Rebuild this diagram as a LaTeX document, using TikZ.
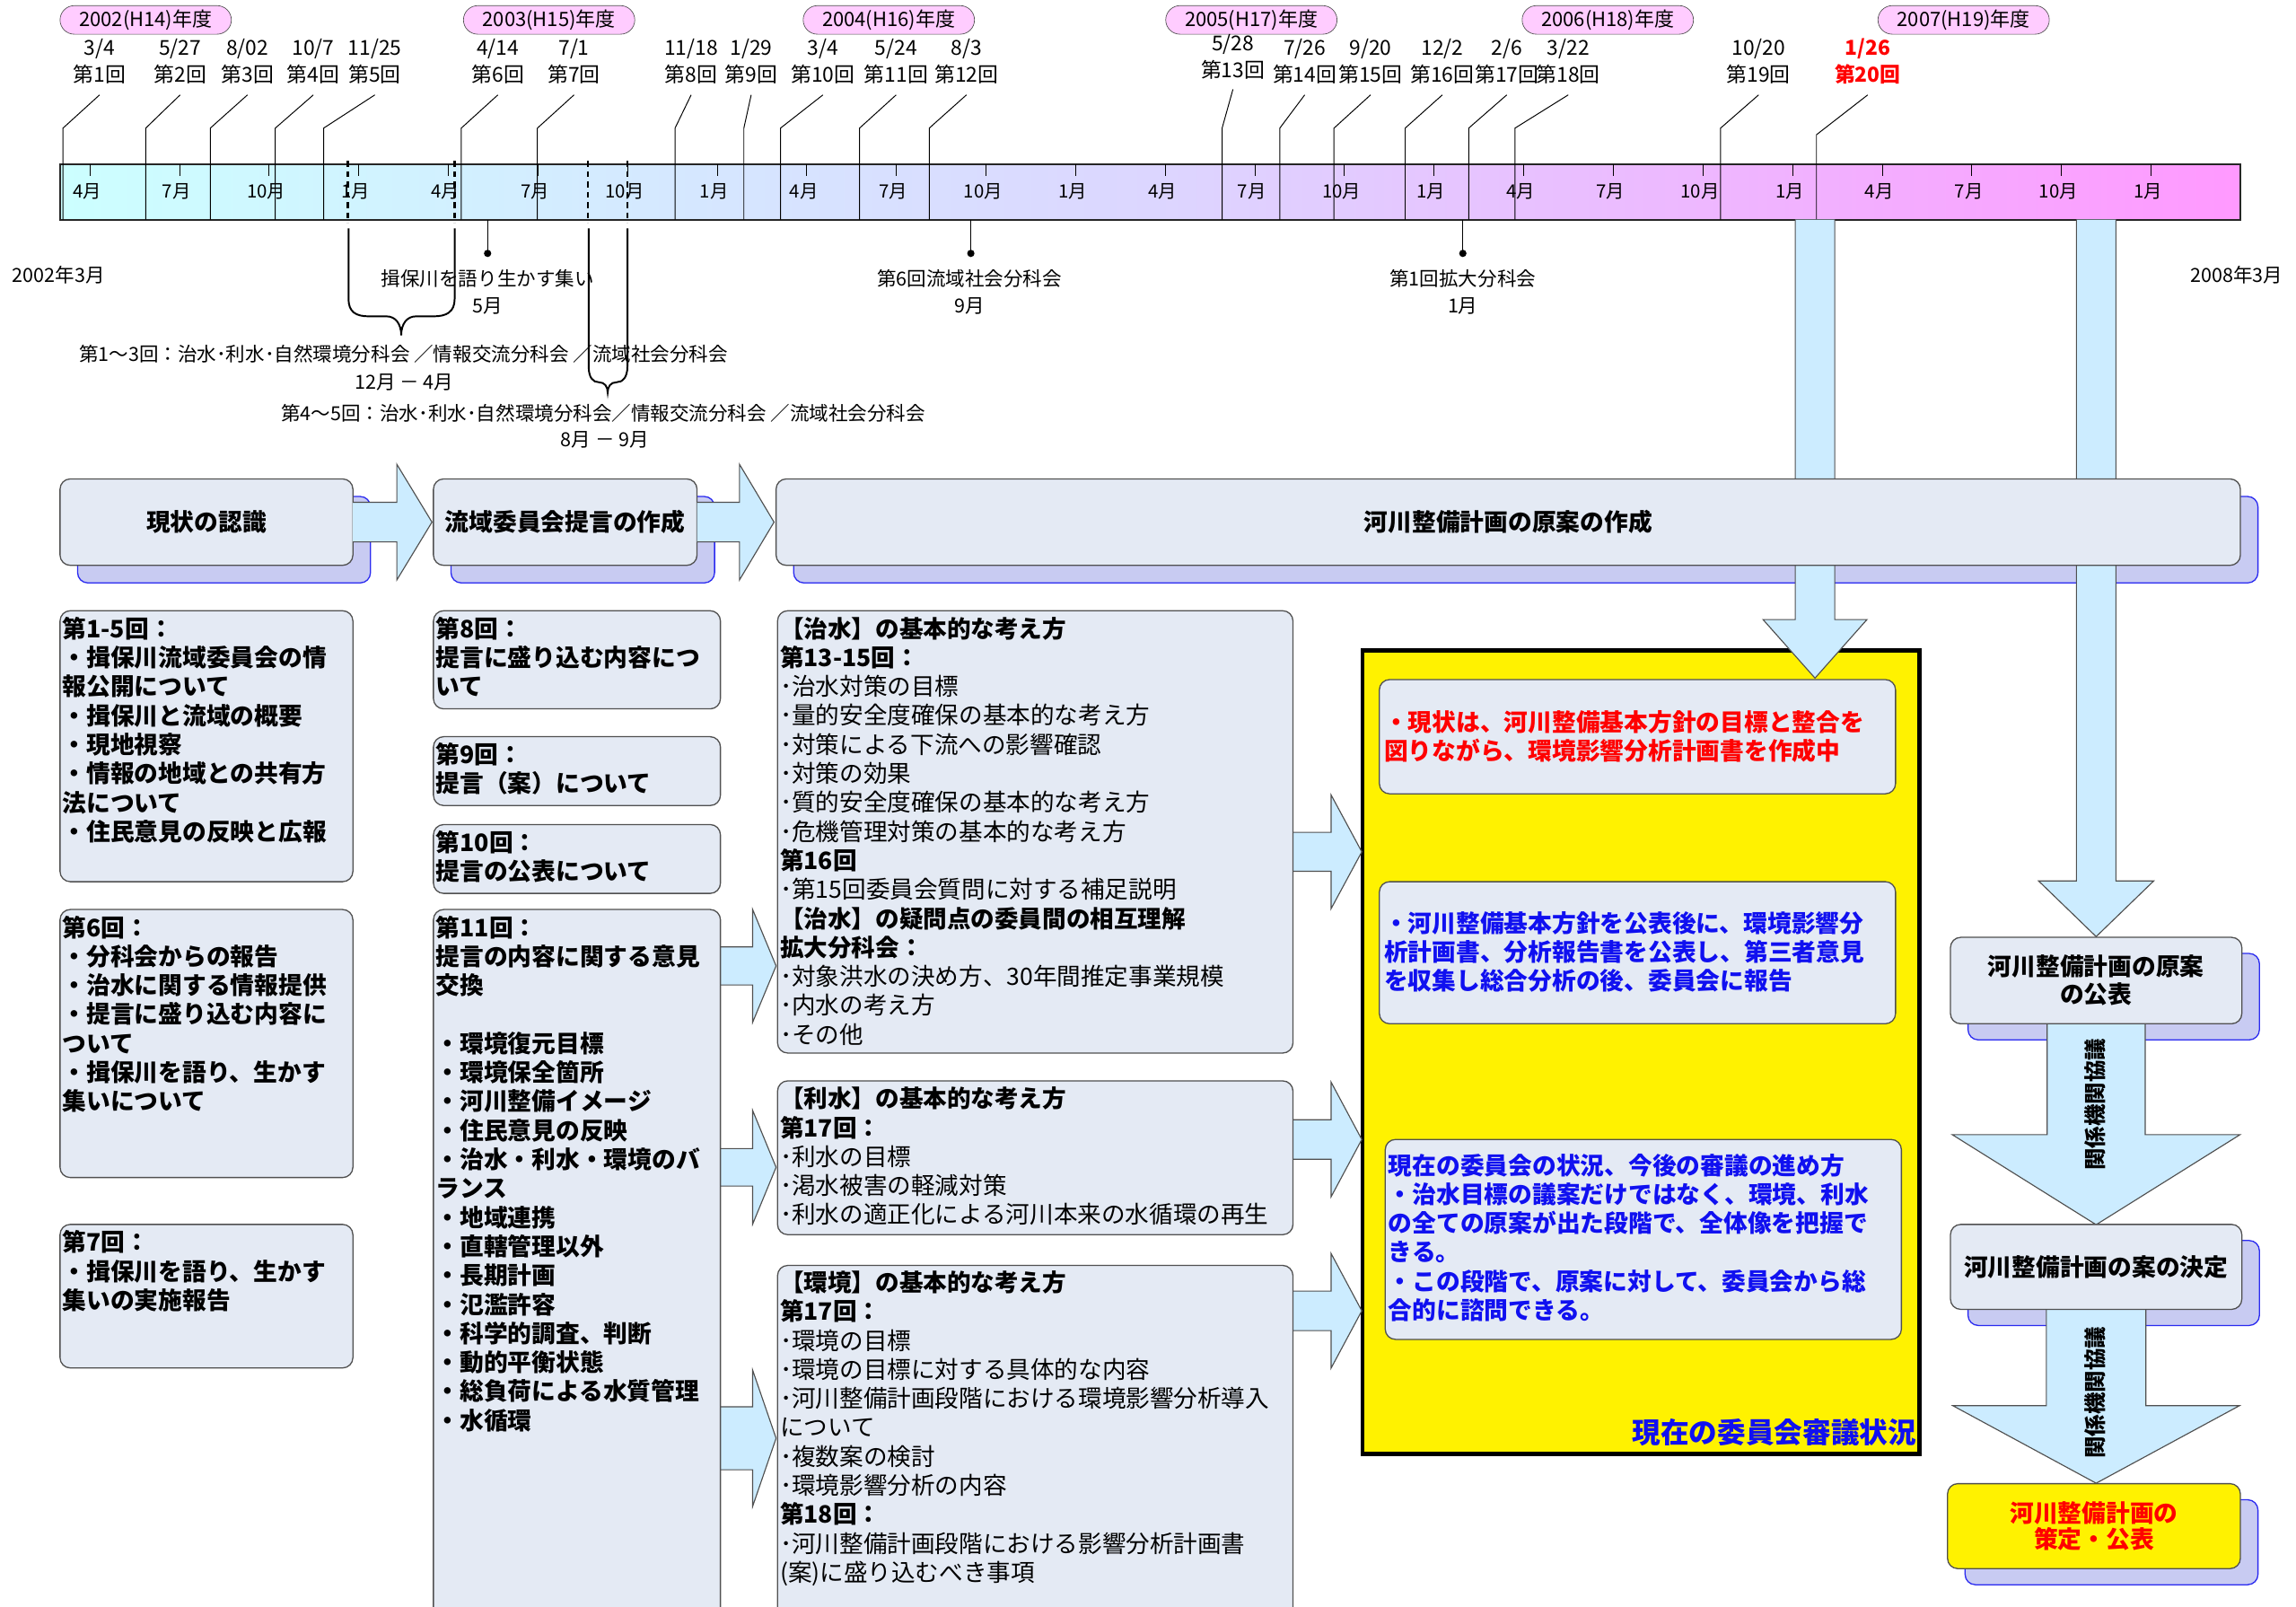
\documentclass[tikz,border=0pt]{standalone}
\usepackage{fontspec}
\setmainfont{Noto Sans CJK JP}
\usetikzlibrary{shapes.misc}
\definecolor{boxfill}{HTML}{E4EAF4}
\definecolor{boxdraw}{HTML}{505050}
\definecolor{shfill}{HTML}{C8CBF2}
\definecolor{shdraw}{HTML}{2A2AF0}
\definecolor{arrfill}{HTML}{CCECFF}
\definecolor{arrdraw}{HTML}{505050}
\definecolor{pillfill}{HTML}{FFCCFF}
\definecolor{tcyan}{HTML}{CCFFFF}
\definecolor{tmid}{HTML}{DCD6FF}
\definecolor{tpink}{HTML}{FF99FF}
\definecolor{tblue}{HTML}{1010F0}
\definecolor{tred}{HTML}{FF0000}
\newcommand\myB{\fontsize{16.4pt}{19.8pt}\selectfont\bfseries}
\newcommand\myR{\fontsize{16.3pt}{19.8pt}\selectfont}
\newcommand\mytl{\fontsize{14pt}{16pt}\selectfont}
\newcommand\mymf{\fontsize{12.5pt}{14pt}\selectfont}
\newcommand\mysm{\fontsize{13.2pt}{15pt}\selectfont}
\newcommand\mkbox[6]{\node[#1,anchor=north west,inner sep=0pt,outer sep=0pt,minimum width={(#5)-(#3)},minimum height={(#6)-(#4)}] (#2) at (#3,#4) {};}
\newcommand\harrow[6]{\draw[barr] (#1,#4-#5) -- (#2,#4-#5) -- (#2,#4-#6) -- (#3,#4) -- (#2,#4+#6) -- (#2,#4+#5) -- (#1,#4+#5);}
\newcommand\varrow[6]{\draw[barr] (#1-#5,#2) -- (#1-#5,#3) -- (#1-#6,#3) -- (#1,#4) -- (#1+#6,#3) -- (#1+#5,#3) -- (#1+#5,#2);}
\newcommand\sess[5]{\node[tl] (d#1) at (#2,33.5) {#4};\node[tl] (n#1) at (#2,50.5) {第#5回};\draw[lead] (#2,64.8) -- (#3,87.5) -- (#3,150);}
\begin{document}
\begin{tikzpicture}[x=1pt,y=-1pt,
  box/.style={draw=boxdraw,fill=boxfill,rounded corners=7pt,line width=0.8pt},
  shbox/.style={draw=shdraw,fill=shfill,rounded corners=7pt,line width=0.8pt},
  ybox/.style={draw=boxdraw,fill=yellow,rounded corners=7pt,line width=0.8pt},
  ybig/.style={draw=black,fill=yellow,line width=3pt},
  barr/.style={draw=arrdraw,fill=arrfill,line width=0.7pt},
  pill/.style={draw=black!70,fill=pillfill,rounded rectangle,minimum width=117pt,minimum height=19.5pt,inner sep=0pt,font=\fontsize{13.5pt}{15pt}\selectfont},
  tl/.style={inner sep=0pt,font=\mytl},
  sm/.style={inner sep=0pt,font=\mysm},
  lead/.style={line width=0.6pt,black},
  brc/.style={line width=1.2pt,black},
  tx/.style={inner sep=0pt,anchor=north west,align=left},
  ct/.style={inner sep=0pt,align=center,font=\myB},
]
\useasboundingbox (0,0) rectangle (1568,1097);
\fill[white] (0,0) rectangle (1568,1097);

% ---------- year pills ----------
\node[pill] (y02) at (99.5,13.6) {2002(H14)年度};
\node[pill] (y03) at (375,13.6) {2003(H15)年度};
\node[pill] (y04) at (607,13.6) {2004(H16)年度};
\node[pill] (y05) at (854.6,13.6) {2005(H17)年度};
\node[pill] (y06) at (1098,13.6) {2006(H18)年度};
\node[pill] (y07) at (1341,13.6) {2007(H19)年度};

% ---------- timeline bar ----------
\node[draw=black!85,line width=1pt,left color=tcyan,right color=tpink,middle color=tmid,anchor=north west,minimum width=1489pt,minimum height=38pt,inner sep=0pt,outer sep=0pt] (bar) at (41,112) {};
\foreach \k in {0,...,23} \draw[lead] ({61.4+61.2*\k},112) -- ++(0,8);
\foreach \yr in {0,...,5} \foreach \q/\lab in {0/4月,1/7月,2/10月,3/1月}
  \node[inner sep=0pt,font=\mymf] (mo\yr\q) at ({59.4+244.8*\yr+61.2*\q},131) {\lab};

% ---------- sessions ----------
\sess{1}{68}{43}{3/4}{1}
\sess{2}{123}{99.5}{5/27}{2}
\sess{3}{169}{143.6}{8/02}{3}
\sess{4}{214}{188}{10/7}{4}
\sess{5}{256}{221}{11/25}{5}
\sess{6}{340}{315}{4/14}{6}
\sess{7}{392}{367}{7/1}{7}
\sess{8}{472}{461}{11/18}{8}
\sess{9}{513}{508}{1/29}{9}
\sess{10}{562}{533}{3/4}{10}
\sess{11}{612}{587}{5/24}{11}
\sess{12}{660}{634.6}{8/3}{12}
\node[tl] (d13) at (842,30.5) {5/28};
\node[tl] (n13) at (842,47.5) {第13回};
\draw[lead] (842,61) -- (834.6,87.5) -- (834.6,150);
\sess{14}{891}{874}{7/26}{14}
\sess{15}{936}{911}{9/20}{15}
\sess{16}{985}{959.6}{12/2}{16}
\sess{17}{1029}{1003}{2/6}{17}
\sess{18}{1071}{1034.6}{3/22}{18}
\sess{19}{1201}{1175}{10/20}{19}
\node[tl,text=tred,font=\mytl\bfseries] (d20) at (1275.5,33.5) {1/26};
\node[tl,text=tred,font=\mytl\bfseries] (n20) at (1275.5,50.5) {第20回};
\draw[lead] (1275.5,64.8) -- (1240.5,92) -- (1240.5,150);

% dashed markers in bar
\foreach \xx in {237.6,310.5,401.6,428.4}
  \draw[line width=1.4pt,dash pattern=on 4pt off 3pt] (\xx,110) -- (\xx,152);

% braces
\draw[brc] (238,156) -- (238,204) .. controls (238,213) and (243,216) .. (252,216) -- (264,216) .. controls (270,216) and (274,221) .. (274,229) .. controls (274,221) and (278,216) .. (284,216) -- (296,216) .. controls (305,216) and (310.5,213) .. (310.5,204) -- (310.5,156);
\draw[brc] (402,156) -- (402,250) .. controls (402,258) and (405,261) .. (409,261) .. controls (413,261) and (415,264) .. (415,268) .. controls (415,264) and (417,261) .. (421,261) .. controls (425,261) and (428.5,258) .. (428.5,250) -- (428.5,156);

% below-bar labels
\node[sm] (l02) at (40,187.5) {2002年3月};
\node[sm] (l08) at (1527.5,187.5) {2008年3月};
\draw[lead] (333,150) -- (333,173); \fill (333,173) circle (2.5pt);
\node[sm] (ev1) at (333,190) {揖保川を語り生かす集い};
\node[sm] (ev1m) at (333,209) {5月};
\draw[lead] (663,150) -- (663,173); \fill (663,173) circle (2.5pt);
\node[sm] (ev2) at (662,190) {第6回流域社会分科会};
\node[sm] (ev2m) at (662,209) {9月};
\draw[lead] (999,150) -- (999,173); \fill (999,173) circle (2.5pt);
\node[sm] (ev3) at (999,190) {第1回拡大分科会};
\node[sm] (ev3m) at (999,209) {1月};
\node[sm] (br1) at (275.5,242) {第1～3回：治水･利水･自然環境分科会 ／情報交流分科会 ／流域社会分科会};
\node[sm] (br1m) at (276,261) {12月 － 4月};
\node[sm] (br2) at (412,282) {第4～5回：治水･利水･自然環境分科会／情報交流分科会 ／流域社会分科会};
\node[sm] (br2m) at (413,300.5) {8月 － 9月};

% ---------- yellow status box ----------
\mkbox{ybig}{yb}{930.5}{444}{1311}{992.5}
\mkbox{box}{in1}{942}{464}{1294.5}{542}
\node[inner sep=0pt,anchor=west,align=left,text=tred,font=\myB] (in1t) at (945,503) {・現状は、河川整備基本方針の目標と整合を\\図りながら、環境影響分析計画書を作成中};
\mkbox{box}{in2}{942}{602}{1294.5}{699}
\node[inner sep=0pt,anchor=west,align=left,text=tblue,font=\myB] (in2t) at (945,650) {・河川整備基本方針を公表後に、環境影響分\\析計画書、分析報告書を公表し、第三者意見\\を収集し総合分析の後、委員会に報告};
\mkbox{box}{in3}{946}{778}{1298.5}{914.5}
\node[inner sep=0pt,anchor=west,align=left,text=tblue,font=\myB] (in3t) at (948,845) {現在の委員会の状況、今後の審議の進め方\\・治水目標の議案だけではなく、環境、利水\\の全ての原案が出た段階で、全体像を把握で\\きる。\\・この段階で、原案に対して、委員会から総\\合的に諮問できる。};
\node[inner sep=0pt,anchor=east,text=tblue,font=\fontsize{19.4pt}{22pt}\selectfont\bfseries] (ttl) at (1309,978) {現在の委員会審議状況};

% ---------- shadows ----------
\mkbox{shbox}{s1}{53}{339}{253}{398}
\mkbox{shbox}{s2}{308}{339}{488}{398}
\mkbox{shbox}{s3}{542}{339}{1542}{398}
\mkbox{shbox}{s4}{1344}{651}{1543}{710}
\mkbox{shbox}{s5}{1344}{847}{1543}{905}
\mkbox{shbox}{s6}{1342}{1024}{1542}{1082}

% ---------- vertical arrows ----------
\varrow{1239.5}{150}{423}{463}{13.5}{35.5}
\varrow{1431.5}{150}{601.5}{639.5}{13.5}{39.3}
\varrow{1431.5}{699}{774.7}{836.2}{33.5}{98.3}
\varrow{1431.5}{894}{959.8}{1012.7}{34}{97.8}
\node[inner sep=0pt,rotate=90,font=\fontsize{15pt}{17pt}\selectfont\bfseries] (kk1) at (1431,754) {関係機関協議};
\node[inner sep=0pt,rotate=90,font=\fontsize{15pt}{17pt}\selectfont\bfseries] (kk2) at (1431,951) {関係機関協議};

% ---------- main row boxes ----------
\mkbox{box}{m1}{41}{327}{241}{386}
\node[ct] (m1t) at (m1.center) {現状の認識};
\mkbox{box}{m2}{296}{327}{476}{386}
\node[ct] (m2t) at (m2.center) {流域委員会提言の作成};
\mkbox{box}{m3}{530}{327}{1530}{386}
\node[ct] (m3t) at (m3.center) {河川整備計画の原案の作成};
\mkbox{box}{r1}{1332}{640}{1531}{699}
\node[ct,font=\fontsize{16.4pt}{19pt}\selectfont\bfseries] (r1t) at (r1.center) {河川整備計画の原案\\の公表};
\mkbox{box}{r2}{1332}{836}{1531}{894}
\node[ct] (r2t) at (r2.center) {河川整備計画の案の決定};
\mkbox{ybox}{r3}{1330}{1013}{1530}{1071}
\node[ct,text=tred,font=\fontsize{16.4pt}{18pt}\selectfont\bfseries] (r3t) at (r3.center) {河川整備計画の\\策定・公表};

% ---------- horizontal arrows ----------
\harrow{241}{271}{295}{356.5}{13.5}{39.5}
\harrow{476}{505}{528.6}{356.5}{13.5}{39.5}
\harrow{492}{514}{530}{659.5}{13}{38.5}
\harrow{492}{514}{530}{797}{12.8}{38.8}
\harrow{492}{514}{530}{982}{21.5}{46.5}
\harrow{883}{909}{930}{581.6}{13.3}{38.9}
\harrow{883}{909}{930}{778}{13.5}{39.2}
\harrow{883}{909}{930}{895}{13.5}{39.2}

% ---------- left column ----------
\mkbox{box}{a1}{41}{417}{241}{602}
\node[tx,font=\myB] (a1t) at (42.5,421) {第1-5回：\\・揖保川流域委員会の情\\報公開について\\・揖保川と流域の概要\\・現地視察\\・情報の地域との共有方\\法について\\・住民意見の反映と広報};
\mkbox{box}{a2}{41}{621}{241}{804}
\node[tx,font=\myB] (a2t) at (42.5,625) {第6回：\\・分科会からの報告\\・治水に関する情報提供\\・提言に盛り込む内容に\\ついて\\・揖保川を語り、生かす\\集いについて};
\mkbox{box}{a3}{41}{836}{241}{934}
\node[tx,font=\myB] (a3t) at (42.5,840) {第7回：\\・揖保川を語り、生かす\\集いの実施報告};

% ---------- middle column ----------
\mkbox{box}{b1}{296}{417}{492}{484}
\node[tx,font=\myB] (b1t) at (297.5,421) {第8回：\\提言に盛り込む内容につ\\いて};
\mkbox{box}{b2}{296}{503}{492}{550}
\node[tx,font=\myB] (b2t) at (297.5,507) {第9回：\\提言（案）について};
\mkbox{box}{b3}{296}{563}{492}{610}
\node[tx,font=\myB] (b3t) at (297.5,567) {第10回：\\提言の公表について};
\mkbox{box}{b4}{296}{621}{492}{1115}
\node[tx,font=\myB] (b4t) at (297.5,625) {第11回：\\提言の内容に関する意見\\交換\\[19.8pt]・環境復元目標\\・環境保全箇所\\・河川整備イメージ\\・住民意見の反映\\・治水・利水・環境のバ\\ランス\\・地域連携\\・直轄管理以外\\・長期計画\\・氾濫許容\\・科学的調査、判断\\・動的平衡状態\\・総負荷による水質管理\\・水循環};

% ---------- third column ----------
\mkbox{box}{c1}{531}{417}{883}{719}
\node[tx,font=\myR] (c1t) at (532.5,421) {{\bfseries 【治水】の基本的な考え方}\\{\bfseries 第13-15回：}\\･治水対策の目標\\･量的安全度確保の基本的な考え方\\･対策による下流への影響確認\\･対策の効果\\･質的安全度確保の基本的な考え方\\･危機管理対策の基本的な考え方\\{\bfseries 第16回}\\･第15回委員会質問に対する補足説明\\{\bfseries 【治水】の疑問点の委員間の相互理解}\\{\bfseries 拡大分科会：}\\･対象洪水の決め方、30年間推定事業規模\\･内水の考え方\\･その他};
\mkbox{box}{c2}{531}{738}{883}{843}
\node[tx,font=\myR] (c2t) at (532.5,742) {{\bfseries 【利水】の基本的な考え方}\\{\bfseries 第17回：}\\･利水の目標\\･渇水被害の軽減対策\\･利水の適正化による河川本来の水循環の再生};
\mkbox{box}{c3}{531}{864}{883}{1115}
\node[tx,font=\myR] (c3t) at (532.5,867.5) {{\bfseries 【環境】の基本的な考え方}\\{\bfseries 第17回：}\\･環境の目標\\･環境の目標に対する具体的な内容\\･河川整備計画段階における環境影響分析導入\\について\\･複数案の検討\\･環境影響分析の内容\\{\bfseries 第18回：}\\･河川整備計画段階における影響分析計画書\\(案)に盛り込むべき事項};
\end{tikzpicture}
\end{document}
